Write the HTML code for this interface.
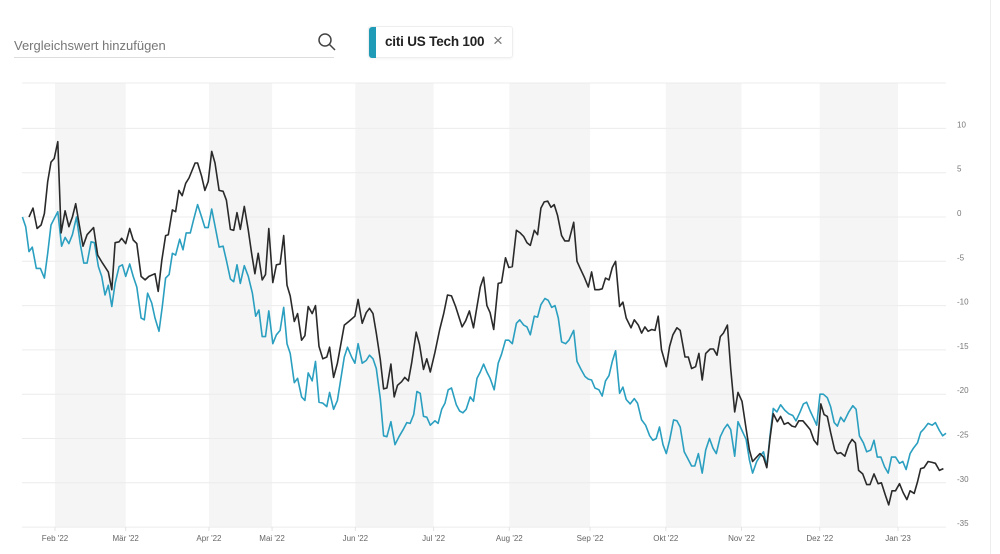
<!DOCTYPE html>
<html><head><meta charset="utf-8">
<style>
body{margin:0;width:1000px;height:554px;background:#fff;font-family:"Liberation Sans",sans-serif;overflow:hidden;position:relative}
.search{position:absolute;left:14px;top:30px;width:320px;height:27px;border-bottom:1px solid #ddd}
.search span{position:absolute;left:0;top:8px;font-size:13px;color:#777}
.chip{position:absolute;left:368px;top:26px;width:143px;height:30px;border:1px solid #eee;border-radius:3px;box-shadow:0 1px 2px rgba(0,0,0,.05)}
.chip .bar{position:absolute;left:0;top:0;width:7px;height:31px;background:#1f9bb7;border-radius:3px 0 0 3px}
.chip .t{position:absolute;left:16px;top:7px;font-size:13.5px;font-weight:bold;color:#222;letter-spacing:-0.2px}
.chip .x{position:absolute;left:124px;top:4px;font-size:17px;color:#777}
</style></head><body>
<div class="search"><span>Vergleichswert hinzufügen</span>
<svg style="position:absolute;left:303px;top:2px" width="20" height="20" viewBox="0 0 20 20"><circle cx="8" cy="8" r="6" fill="none" stroke="#444" stroke-width="1.5"/><line x1="12.5" y1="12.5" x2="18" y2="18" stroke="#444" stroke-width="1.5"/></svg></div>
<div class="chip"><div class="bar"></div><span class="t">citi US Tech 100</span><span class="x">×</span></div>
<div style="position:absolute;left:990px;top:0;width:1px;height:554px;background:#eee"></div>
<svg id="chart" width="1000" height="554" style="position:absolute;left:0;top:0"></svg>
<script>
const monthLabels=["Feb '22","Mär '22","Apr '22","Mai '22","Jun '22","Jul '22","Aug '22","Sep '22","Okt '22","Nov '22","Dez '22","Jan '23"];
const monthDays=[31,59,92,117,150,181,211,243,273,303,334,365];
const yTicks=[10,5,0,-5,-10,-15,-20,-25,-30,-35];
const blackDays=[20.7,22.3,23.9,25.5,26.8,28.1,29.4,30.7,32.1,33.4,35.0,36.5,37.9,39.2,40.5,42.1,43.7,46.3,47.9,49.8,52.1,53.5,54.8,56.4,57.4,59.0,60.6,62.0,63.4,65.1,66.7,68.2,70.6,71.9,73.3,74.8,75.9,77.5,78.8,80.1,81.4,82.8,84.1,86.5,87.5,89.1,90.4,91.7,93.1,94.4,96.0,97.6,98.9,100.5,101.8,103.1,104.4,106.0,107.6,108.9,110.2,111.5,113.1,114.4,115.7,117.3,118.7,120.2,121.6,122.9,124.2,125.8,127.1,128.7,130.0,131.3,132.9,134.2,135.6,137.1,138.7,139.8,141.4,142.9,145.6,147.4,149.8,151.1,152.7,154.3,155.6,157.0,158.3,159.9,161.2,162.5,164.1,165.4,166.7,168.3,169.6,171.0,172.3,174.1,175.4,177.0,178.3,179.7,181.5,183.4,185.0,186.5,188.1,189.7,192.3,193.7,195.2,196.8,198.2,199.5,200.8,202.1,203.4,204.8,206.6,207.9,209.5,210.8,212.2,213.8,215.3,216.7,218.0,219.3,220.9,222.2,223.5,224.8,226.2,227.5,228.8,230.1,231.7,233.0,234.6,236.5,237.8,239.1,240.7,242.3,243.6,244.9,246.5,247.8,249.1,250.5,251.8,253.1,254.7,256.0,257.3,259.2,260.5,262.1,263.4,264.7,266.0,267.4,268.7,270.0,271.3,273.2,274.5,275.8,277.4,278.7,280.6,281.9,283.2,284.8,286.1,287.4,288.8,290.6,291.9,293.3,294.6,295.8,297.4,298.7,300.3,301.6,303.2,304.8,306.1,307.4,309.0,310.3,311.7,313.0,314.3,315.6,317.2,318.5,319.9,321.4,323.0,324.3,325.7,327.3,328.8,330.2,331.7,333.1,334.4,335.7,337.0,338.3,339.9,341.0,342.3,343.9,345.5,346.8,348.1,349.4,351.0,352.6,353.9,355.5,357.1,358.4,360.0,361.3,362.6,364.0,365.6,367.0,368.5,369.8,371.4,372.7,374.0,375.3,376.9,378.5,379.8,381.4,383.0];
const blackValues=[0.0,1.0,-1.3,-0.9,0.4,4.0,6.2,6.6,8.5,-1.8,0.7,-1.1,0.0,1.5,-0.7,-3.3,-2.0,-1.2,-4.3,-5.2,-6.2,-8.2,-2.9,-2.8,-2.4,-3.0,-1.3,-2.6,-3.0,-6.7,-7.1,-6.7,-6.4,-8.4,-4.9,-2.1,-2.0,0.8,0.6,3.0,2.4,3.8,4.4,6.1,6.1,4.6,3.0,4.0,7.4,6.1,3.0,2.9,1.9,-1.4,-1.5,0.5,-1.4,1.2,-1.5,-4.1,-6.4,-4.1,-7.1,-6.5,-1.3,-7.4,-5.4,-5.3,-2.1,-7.7,-8.9,-11.8,-10.9,-13.9,-13.4,-10.1,-10.9,-10.0,-14.6,-16.0,-15.8,-14.7,-18.1,-16.5,-12.2,-11.8,-11.2,-9.3,-12.0,-10.8,-10.3,-10.9,-13.1,-16.1,-19.4,-19.3,-16.6,-20.3,-19.0,-18.6,-18.1,-18.5,-16.5,-13.0,-14.4,-17.2,-16.0,-17.5,-15.3,-12.7,-10.9,-8.8,-8.9,-10.1,-12.4,-11.7,-10.6,-12.5,-10.1,-7.9,-6.8,-10.0,-10.8,-12.7,-7.5,-7.4,-4.6,-5.7,-5.6,-1.5,-1.8,-2.2,-2.9,-3.2,-1.5,-2.0,1.0,1.7,1.8,1.1,1.4,0.2,-2.1,-2.7,-2.7,-0.6,-5.0,-5.8,-6.8,-7.9,-6.2,-8.2,-8.2,-8.1,-6.9,-7.1,-5.7,-5.0,-10.1,-9.6,-11.4,-12.5,-11.6,-12.2,-13.1,-12.4,-12.9,-12.7,-12.8,-11.2,-15.0,-16.9,-14.6,-13.3,-12.5,-12.8,-15.8,-15.8,-17.1,-16.9,-15.4,-18.4,-15.4,-14.9,-14.9,-15.6,-13.5,-13.1,-12.2,-17.1,-22.0,-19.8,-20.8,-23.9,-26.3,-27.6,-27.1,-26.7,-27.1,-28.3,-25.0,-22.2,-23.1,-22.5,-23.4,-23.2,-23.6,-23.7,-23.0,-23.0,-23.5,-24.0,-25.2,-25.7,-21.1,-22.3,-22.5,-24.3,-26.3,-26.7,-26.6,-27.0,-25.7,-25.1,-25.5,-28.6,-29.0,-30.2,-30.2,-29.0,-30.1,-30.0,-31.4,-32.5,-30.9,-30.9,-30.1,-31.1,-31.9,-30.9,-31.2,-29.9,-28.4,-28.3,-27.6,-27.7,-27.8,-28.6,-28.4];
const blueDays=[18.1,19.4,20.7,22.0,23.6,25.2,26.8,28.1,29.4,30.7,32.1,33.6,35.0,36.5,37.9,39.5,41.0,42.4,43.7,45.3,46.6,48.2,49.5,50.8,52.1,53.5,54.8,56.4,57.7,59.0,60.6,62.0,63.4,65.1,66.4,67.7,69.3,70.6,72.2,73.5,74.8,76.2,77.5,78.8,80.4,81.7,83.0,84.6,85.9,87.5,89.1,90.4,91.7,93.1,94.4,96.0,97.6,98.9,100.5,101.8,103.1,104.4,106.0,107.6,109.2,110.5,111.8,113.1,114.4,115.7,117.3,118.7,120.2,121.6,122.9,124.2,125.8,127.1,128.7,130.0,131.3,132.9,134.2,135.6,137.1,138.7,139.8,141.4,142.9,145.6,146.9,148.5,149.8,151.1,152.7,154.3,155.6,157.0,158.3,159.9,161.2,162.5,164.1,165.7,167.3,169.1,170.4,171.7,173.1,174.4,175.7,177.0,178.3,179.7,181.5,182.8,184.2,185.5,186.8,188.1,190.0,191.3,192.6,193.9,195.5,196.8,198.2,199.5,200.8,202.1,203.4,205.0,206.6,207.9,209.5,210.8,212.2,213.8,215.1,216.7,218.0,219.3,220.9,222.2,223.5,225.1,226.4,227.8,229.1,230.4,231.7,233.3,234.6,236.5,237.8,239.4,241.0,242.3,243.6,244.9,246.5,247.8,249.1,250.5,251.8,253.1,254.7,256.0,257.3,258.9,260.5,261.8,263.4,265.0,266.6,267.9,269.2,270.5,271.9,273.2,274.5,276.1,277.4,278.7,280.3,281.6,283.2,284.5,285.9,287.4,288.8,290.3,291.7,293.0,294.6,296.1,297.4,298.7,300.3,301.6,303.2,304.8,306.1,307.4,309.0,310.3,311.7,313.0,314.3,315.6,317.0,318.5,320.1,321.7,323.3,324.6,326.2,327.5,328.8,330.2,331.5,332.8,334.1,335.4,337.0,338.3,339.7,341.0,342.3,343.6,345.5,347.1,348.4,349.7,351.3,352.6,354.2,355.5,356.8,358.2,359.7,361.1,362.4,364.0,365.6,366.9,368.2,369.8,371.1,372.7,374.0,375.3,376.9,378.5,379.8,381.4,382.7,384.0];
const blueValues=[0.0,-1.1,-3.9,-3.4,-5.8,-5.8,-6.9,-4.1,-0.9,-0.2,0.6,-3.3,-2.3,-3.0,-2.0,0.0,-3.0,-5.2,-5.2,-2.8,-2.9,-5.6,-6.7,-8.8,-7.7,-10.1,-7.5,-5.6,-5.4,-6.7,-5.3,-6.7,-7.9,-11.4,-11.6,-8.6,-9.7,-11.4,-12.9,-10.1,-6.9,-6.5,-4.1,-4.3,-2.5,-3.7,-1.8,-1.8,-0.3,1.4,0.0,-1.2,-1.2,0.9,-1.0,-3.4,-3.3,-4.9,-7.0,-7.3,-5.4,-7.5,-5.5,-6.7,-8.6,-11.2,-10.5,-13.5,-13.5,-10.6,-14.3,-13.3,-12.8,-10.2,-14.3,-15.4,-18.7,-18.2,-20.3,-20.7,-17.6,-18.5,-16.3,-20.9,-21.0,-21.4,-19.8,-21.7,-20.7,-15.8,-14.7,-15.8,-16.5,-14.3,-16.5,-16.2,-15.6,-16.0,-17.1,-20.5,-24.7,-24.8,-23.1,-25.7,-24.8,-23.9,-23.2,-23.3,-22.3,-19.7,-19.9,-22.5,-22.6,-23.5,-23.0,-23.3,-21.7,-21.0,-19.5,-19.3,-21.2,-21.9,-22.1,-21.7,-20.3,-20.8,-18.2,-17.5,-16.6,-17.5,-18.2,-19.5,-16.5,-15.5,-13.9,-13.9,-14.3,-12.0,-11.6,-12.2,-12.4,-13.3,-11.2,-11.3,-9.9,-9.2,-9.4,-10.2,-10.0,-11.4,-14.1,-14.3,-13.9,-12.8,-16.3,-17.2,-18.0,-18.3,-18.4,-19.3,-19.5,-20.2,-18.5,-17.9,-16.3,-15.1,-19.9,-19.2,-20.6,-21.1,-20.5,-21.0,-22.9,-23.5,-24.7,-25.2,-25.0,-23.7,-25.7,-26.7,-25.2,-22.9,-23.0,-23.7,-26.5,-27.2,-28.1,-28.1,-26.7,-28.9,-26.3,-25.0,-26.1,-26.7,-24.8,-23.9,-23.4,-24.0,-27.0,-23.1,-24.1,-25.1,-27.4,-28.9,-27.6,-27.0,-26.5,-28.2,-24.7,-21.6,-22.0,-21.2,-21.8,-22.2,-22.4,-23.0,-22.0,-21.1,-20.9,-21.9,-22.7,-23.5,-20.0,-20.0,-20.4,-21.4,-23.2,-23.6,-22.6,-23.1,-22.0,-21.3,-21.7,-24.7,-25.5,-26.5,-26.3,-25.2,-27.1,-27.1,-28.2,-28.9,-27.1,-27.1,-27.8,-27.6,-28.5,-26.7,-26.1,-25.5,-24.3,-23.9,-23.3,-23.5,-23.2,-24.1,-24.7,-24.4];

const NS='http://www.w3.org/2000/svg';
const svg=document.getElementById('chart');
const L=22,R=946,TOP=83,BOT=527;
function xS(d){return 55+(d-31)*2.524;}
function yS(v){return 217-v*8.86;}
function mk(tag,attrs,parent){const e=document.createElementNS(NS,tag);for(const k in attrs)e.setAttribute(k,attrs[k]);(parent||svg).appendChild(e);return e;}
// shaded bands
for(let i=0;i<monthDays.length;i+=2){
  const x0=xS(monthDays[i]),x1=i+1<monthDays.length?xS(monthDays[i+1]):R;
  const b=mk('rect',{x:x0,y:TOP,width:x1-x0,height:BOT-TOP,fill:'#f5f5f5'});
  
  
}
// grid
mk('line',{x1:L,x2:R,y1:TOP,y2:TOP,stroke:'#ececec','stroke-width':1});
yTicks.forEach(v=>{
  const g=mk('line',{x1:L,x2:R,y1:yS(v),y2:yS(v),stroke:'#ececec','stroke-width':1});
  
  
  const t=mk('text',{x:957,y:yS(v)-1,'font-size':8,fill:'#777','font-family':'Liberation Sans Narrow, Liberation Sans, sans-serif'});
  t.textContent=v;
  
  
});
monthDays.forEach((d,i)=>{
  const x=xS(d);
  mk('line',{x1:x,x2:x,y1:BOT,y2:BOT+4,stroke:'#e4e4e4'});
  const t=mk('text',{x:x,y:541,'font-size':8,fill:'#666','text-anchor':'middle','font-family':'Liberation Sans Narrow, Liberation Sans, sans-serif'});
  t.textContent=monthLabels[i];
  
  
});
function line(days,vals,color,name){
  const d=days.map((dd,i)=>(i?'L':'M')+xS(dd).toFixed(1)+' '+yS(vals[i]).toFixed(1)).join(' ');
  const p=mk('path',{d:d,fill:'none',stroke:color,'stroke-width':1.6,'stroke-linejoin':'round'});
  
  
}
line(blueDays,blueValues,'#2a9fc0','series-citi-us-tech-100');
line(blackDays,blackValues,'#2a2a2a','series-benchmark');
</script>
</body></html>
